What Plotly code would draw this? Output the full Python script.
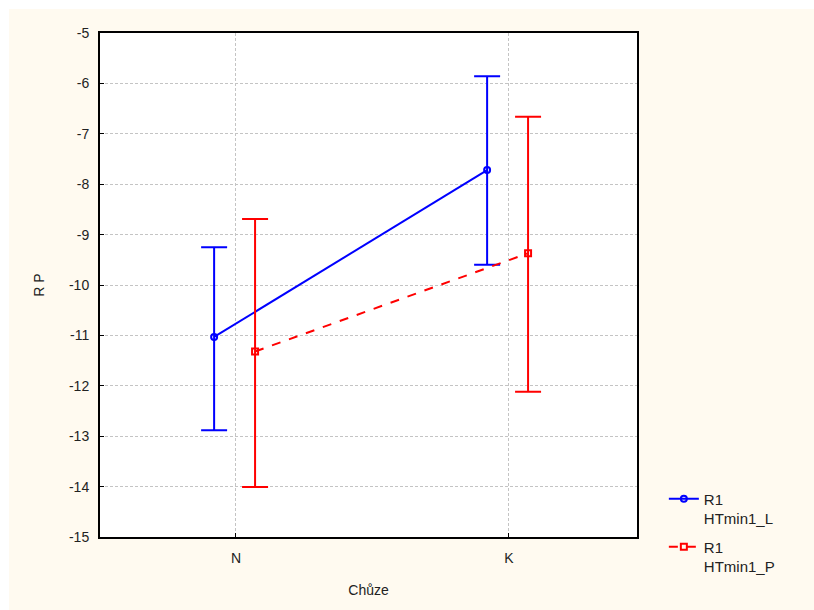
import plotly.graph_objects as go

categories = ["N", "K"]
cat_pos = [0, 1]
blue_name = "R1<br>HTmin1_L"
red_name = "R1<br>HTmin1_P"
blue_mean = [-11.03, -7.72]
blue_upper = [-9.25, -5.86]
blue_lower = [-12.88, -9.60]
red_mean = [-11.32, -9.37]
red_upper = [-8.69, -6.66]
red_lower = [-14.01, -12.12]
y_ticks = [-15, -14, -13, -12, -11, -10, -9, -8, -7, -6, -5]
y_tick_labels = ["-15", "-14", "-13", "-12", "-11", "-10", "-9", "-8", "-7", "-6", "-5"]

blue_off = -0.08
red_off = 0.07

fig = go.Figure()

fig.add_trace(go.Scatter(
    x=[p + blue_off for p in cat_pos], y=blue_mean, name=blue_name,
    legendgroup="L",
    mode="lines+markers",
    line=dict(color="#0000FF", width=2),
    marker=dict(symbol="circle-open", size=6, color="#0000FF", line=dict(width=2)),
    error_y=dict(type="data", symmetric=False,
                 array=[u - m for u, m in zip(blue_upper, blue_mean)],
                 arrayminus=[m - l for m, l in zip(blue_mean, blue_lower)],
                 color="#0000FF", thickness=2, width=13),
))
fig.add_trace(go.Scatter(
    x=[p + red_off for p in cat_pos], y=red_mean, name=red_name,
    legendgroup="P",
    mode="lines+markers",
    line=dict(color="#FF0000", width=2, dash="dash"),
    marker=dict(symbol="square-open", size=6, color="#FF0000", line=dict(width=2)),
    error_y=dict(type="data", symmetric=False,
                 array=[u - m for u, m in zip(red_upper, red_mean)],
                 arrayminus=[m - l for m, l in zip(red_mean, red_lower)],
                 color="#FF0000", thickness=2, width=13),
))

# white outer strips (top and left) over the cream paper background
fig.add_shape(type="rect", xref="paper", yref="paper",
              x0=-0.25, x1=1.4, y0=1.0476, y1=1.2,
              fillcolor="white", line=dict(width=0), layer="above")
fig.add_shape(type="rect", xref="paper", yref="paper",
              x0=-0.25, x1=-0.1695, y0=-0.3, y1=1.2,
              fillcolor="white", line=dict(width=0), layer="above")

axis_font = dict(family="Liberation Sans, Arial, sans-serif", size=14, color="#222222")

fig.update_layout(
    width=814, height=610,
    margin=dict(l=100, r=177, t=33, b=73),
    paper_bgcolor="#FFFAF0",
    plot_bgcolor="white",
    font=axis_font,
    showlegend=True,
    legend=dict(x=1.05, y=0.108, xanchor="left", yanchor="top",
                bgcolor="rgba(0,0,0,0)", valign="top",
                font=dict(family="Liberation Sans, Arial, sans-serif", size=15, color="#222222"),
                tracegroupgap=6),
    xaxis=dict(
        range=[-0.498, 1.469],
        tickvals=cat_pos, ticktext=categories,
        showgrid=True, gridcolor="#C4C4C4", griddash="3px,2px", gridwidth=1,
        showline=True, linecolor="black", linewidth=2, mirror=True,
        ticks="inside", ticklen=4, tickcolor="black",
        zeroline=False, ticklabelstandoff=7,
        title=dict(text="Chůze", font=axis_font, standoff=20),
        tickfont=axis_font,
    ),
    yaxis=dict(
        range=[-15, -5],
        tickvals=y_ticks, ticktext=y_tick_labels,
        showgrid=True, gridcolor="#C4C4C4", griddash="3px,2px", gridwidth=1,
        showline=True, linecolor="black", linewidth=2, mirror=True,
        ticks="inside", ticklen=4, tickcolor="black",
        zeroline=False, ticklabelstandoff=6,
        title=dict(text="R P", font=axis_font, standoff=21),
        tickfont=axis_font,
    ),
)

fig.write_html("out.html")
